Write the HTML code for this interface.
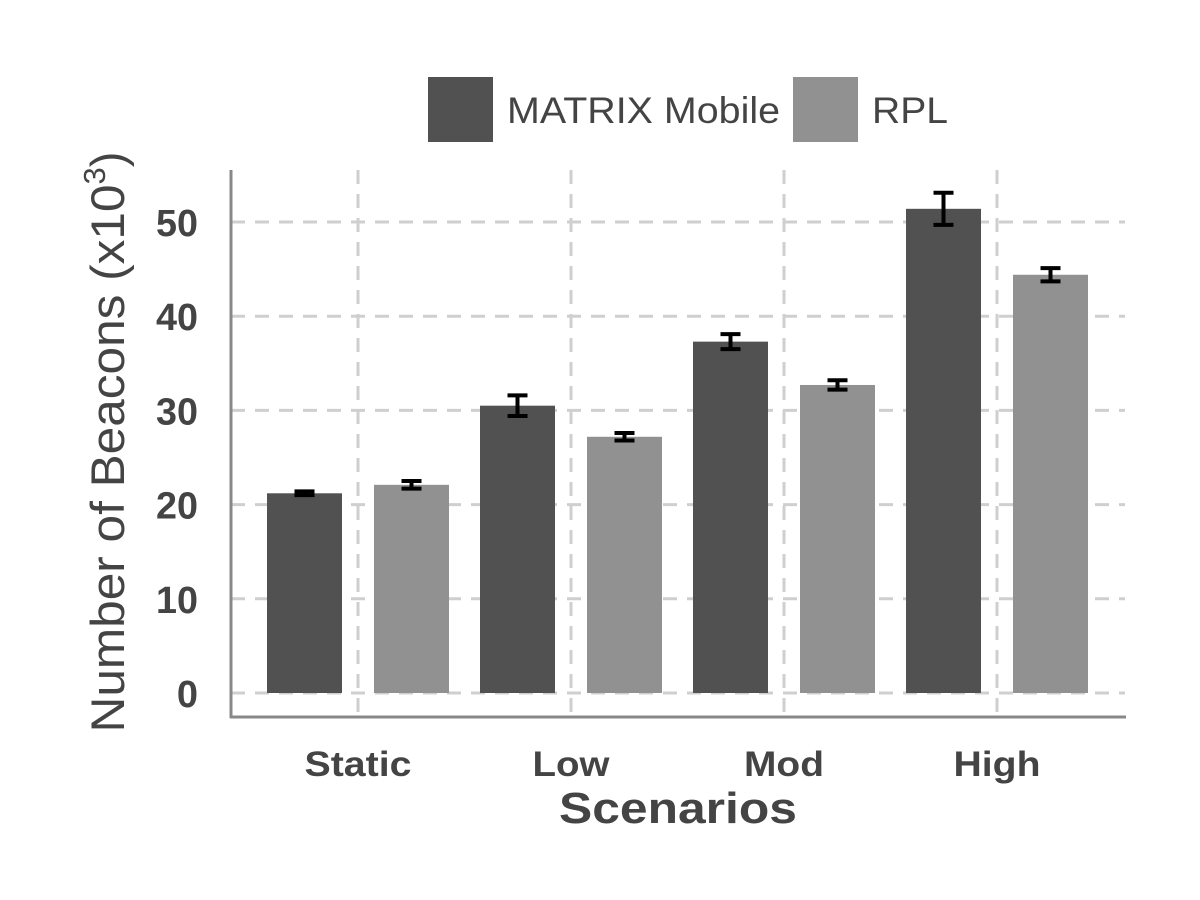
<!DOCTYPE html>
<html><head><meta charset="utf-8"><style>
html,body{margin:0;padding:0;background:#fff;}
svg{display:block;font-family:"Liberation Sans",sans-serif;}
</style></head><body>
<svg id="chart" width="1200" height="900" viewBox="0 0 1200 900">
<g id="grid"></g>
<g id="bars"></g>
<g id="axes"></g>
<g>
  <rect x="428" y="77" width="65" height="65" fill="#515151"/>
  <text x="507" y="123" font-size="37" fill="#444" textLength="273" lengthAdjust="spacingAndGlyphs">MATRIX Mobile</text>
  <rect x="793" y="77" width="65" height="65" fill="#919191"/>
  <text x="872" y="123" font-size="37" fill="#444" textLength="76" lengthAdjust="spacingAndGlyphs">RPL</text>
</g>
<text x="678" y="823" font-size="44" font-weight="bold" fill="#444" text-anchor="middle" textLength="238" lengthAdjust="spacingAndGlyphs">Scenarios</text>
<text transform="translate(124,442) rotate(-90)" font-size="47" fill="#444" text-anchor="middle"><tspan textLength="548" lengthAdjust="spacingAndGlyphs">Number of Beacons (x10</tspan><tspan dy="-19" font-size="31">3</tspan><tspan dy="19">)</tspan></text>
</svg>
<script>
const categories = ["Static","Low","Mod","High"];
const matrixValues = [21.2,30.5,37.3,51.4];
const matrixErrors = [0.2,1.1,0.8,1.7];
const rplValues = [22.1,27.2,32.7,44.4];
const rplErrors = [0.4,0.4,0.5,0.7];
const yTicks = [0,10,20,30,40,50];
const xLabelWidths = [107,77,80,87];

const NS="http://www.w3.org/2000/svg";
const y = v => 693 - v*9.42;
const xc = i => 358 + i*213;
function mk(tag, attrs, parent){const e=document.createElementNS(NS,tag);for(const k in attrs)e.setAttribute(k,attrs[k]);parent.appendChild(e);return e;}
const grid=document.getElementById('grid'), bars=document.getElementById('bars'), axes=document.getElementById('axes');
yTicks.forEach(t=>{
  const l=mk('line',{x1:231,x2:1125,y1:y(t),y2:y(t),stroke:'#cfcfcf','stroke-width':3,'stroke-dasharray':'14,10'},grid);
  
  
  const attrs={x:198,y:y(t)+14,'font-size':38,'font-weight':'bold',fill:'#444','text-anchor':'end'};
  if(String(t).length===2){attrs.textLength=42;attrs.lengthAdjust='spacingAndGlyphs';}
  const tx=mk('text',attrs,axes);
  tx.textContent=t;
  
  
});
categories.forEach((c,i)=>{
  const l=mk('line',{x1:xc(i),x2:xc(i),y1:170,y2:717,stroke:'#cfcfcf','stroke-width':3,'stroke-dasharray':'14,10'},grid);
  
  
  const tx=mk('text',{x:xc(i),y:776,'font-size':35,'font-weight':'bold',fill:'#444','text-anchor':'middle',textLength:xLabelWidths[i],lengthAdjust:'spacingAndGlyphs'},axes);
  tx.textContent=c;
  
  
  [[matrixValues,matrixErrors,-53.5,'#515151','matrix'],[rplValues,rplErrors,53.5,'#919191','rpl']].forEach(([vals,errs,off,col,nm])=>{
    const cx=xc(i)+off, v=vals[i], e=errs[i];
    const r=mk('rect',{x:cx-37.5,y:y(v),width:75,height:y(0)-y(v),fill:col},bars);
    
    
    const g=mk('g',{stroke:'#000','stroke-width':4},bars);
    
    
    mk('line',{x1:cx,x2:cx,y1:y(v+e),y2:y(v-e)},g);
    mk('line',{x1:cx-10,x2:cx+10,y1:y(v+e),y2:y(v+e)},g);
    mk('line',{x1:cx-10,x2:cx+10,y1:y(v-e),y2:y(v-e)},g);
  });
});
const ya=mk('line',{x1:231,x2:231,y1:170,y2:718,stroke:'#888','stroke-width':3},axes);


const xa=mk('line',{x1:230,x2:1126,y1:717,y2:717,stroke:'#888','stroke-width':3},axes);


</script>
</body></html>
